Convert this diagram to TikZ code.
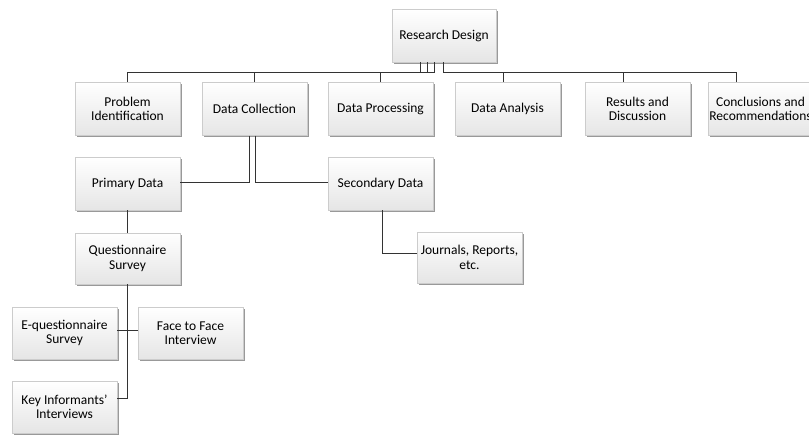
\documentclass[tikz,border=0pt]{standalone}
\usepackage{fontspec}
\setmainfont{Carlito}
\usetikzlibrary{shadows}

\begin{document}
\begin{tikzpicture}[x=1pt, y=-1pt,
		box/.style={draw=gray!40, line width=0.4pt, top color=white, bottom color=gray!20,
			minimum width=105pt, minimum height=53pt, align=center, inner sep=1pt,
			font=\fontsize{13.5}{14.5}\selectfont,
			drop shadow={shadow xshift=1.5pt, shadow yshift=-2pt, fill=black, opacity=0.4}},
		link/.style={draw=black!80, line width=0.9pt}]
		\useasboundingbox (0,0) rectangle (809,435);

		% top level
		\node[box, minimum width=104pt] (rd) at (444,35.5) {Research Design};

		% second level
		\node[box] (pi) at (127.5,109) {Problem\\Identification};
		\node[box] (dc) at (254.5,109) {Data Collection};
		\node[box] (dp) at (380.5,109) {Data Processing};
		\node[box] (da) at (507.5,109) {Data Analysis};
		\node[box] (rad) at (637.5,109) {Results and\\Discussion};
		\node[box] (cr) at (760.5,109) {Conclusions and\\Recommendations};

		% data sources
		\node[box] (pd) at (127.5,183.5) {Primary Data};
		\node[box] (sd) at (380.5,183.5) {Secondary Data};
		\node[box, minimum height=51pt] (qs) at (127.5,258.5) {Questionnaire\\Survey};
		\node[box, minimum height=51pt] (jr) at (469.5,257.5) {Journals, Reports,\\etc.};
		\node[box, minimum height=52pt] (eq) at (64.5,333) {E-questionnaire\\Survey};
		\node[box, minimum height=52pt] (ff) at (190.5,333) {Face to Face\\Interview};
		\node[box, minimum height=52pt] (ki) at (64.5,407) {Key Informants'\\Interviews};

		% connectors
		\draw[link] ([xshift=-24pt]rd.south) -- ++(0,10) -| (pi.north);
		\draw[link] ([xshift=-17pt]rd.south) -- ++(0,10) -| (dc.north);
		\draw[link] ([xshift=-10pt]rd.south) -- ++(0,10) -| (dp.north);
		\draw[link] ([xshift=-1pt]rd.south) -- ++(0,10) -| ([xshift=-4.5pt]da.north);
		\draw[link] ([xshift=-1pt]rd.south) -- ++(0,10) -| ([xshift=-14.5pt]rad.north);
		\draw[link] ([xshift=-1pt]rd.south) -- ++(0,10) -| ([xshift=-24.5pt]cr.north);
		\draw[link] ([xshift=-5.5pt]dc.south) |- ([yshift=1.5pt]pd.east);
		\draw[link] ([xshift=0.5pt]dc.south) |- ([yshift=1.5pt]sd.west);
		\draw[link] (pd.south) -- (qs.north);
		\draw[link] ([xshift=1.5pt]sd.south) |- ([yshift=4pt]jr.west);
		\draw[link] (qs.south) |- ([yshift=3pt]eq.east);
		\draw[link] (qs.south) |- ([yshift=3pt]ff.west);
		\draw[link] (qs.south) |- ([yshift=9pt]ki.east);
	\end{tikzpicture}
\end{document}
